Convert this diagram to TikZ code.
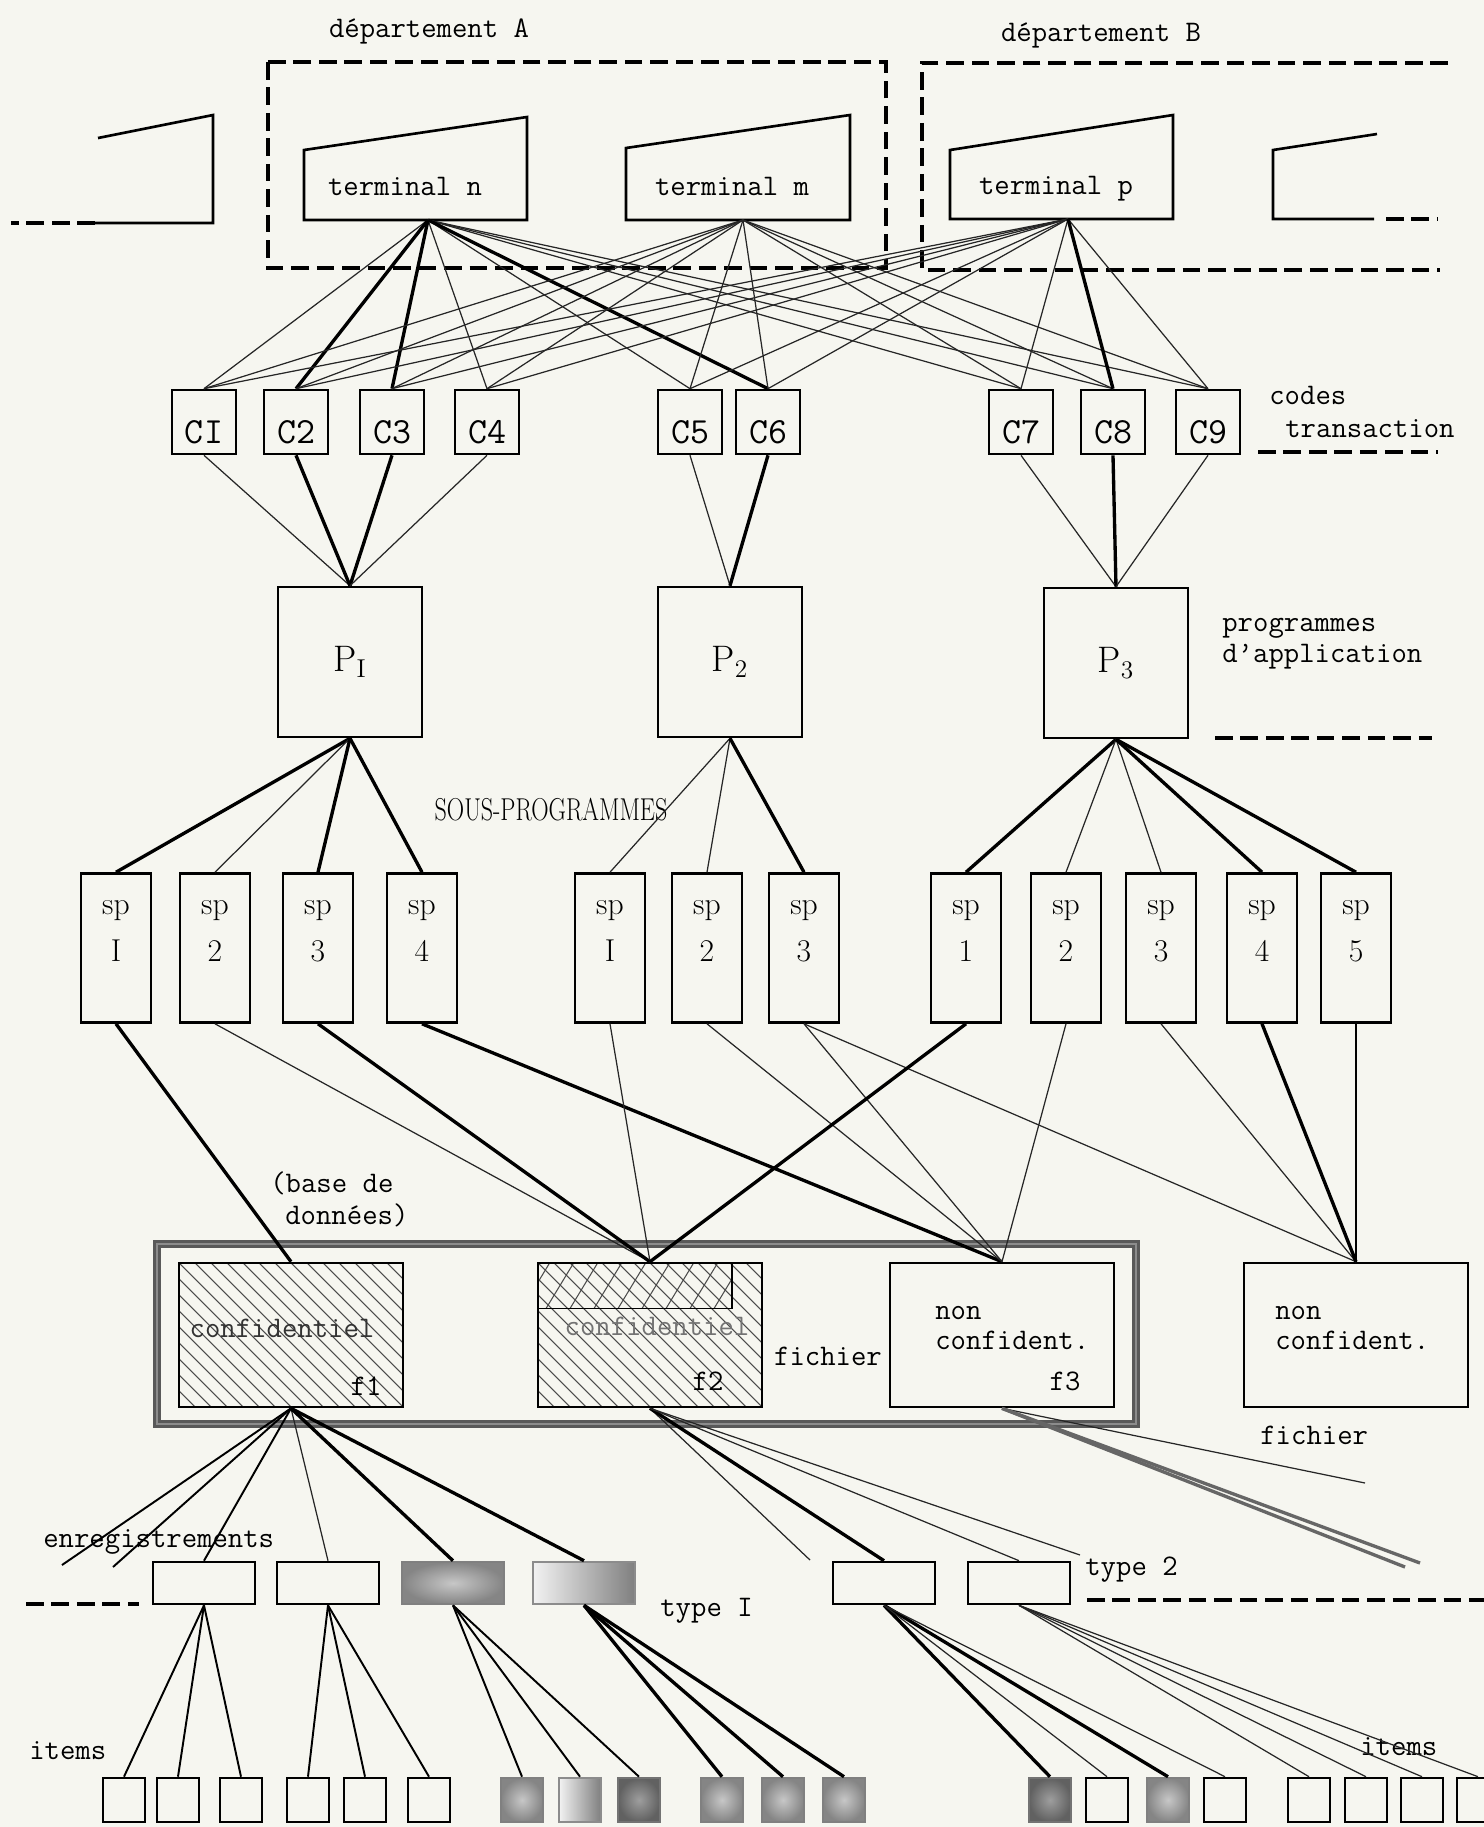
\documentclass[tikz,border=0pt]{standalone}
\usepackage{fontspec}
\usepackage{graphicx}
\usepackage{tikz}
\usetikzlibrary{positioning}

\definecolor{paper}{RGB}{246,246,240}

\begin{document}
\begin{tikzpicture}[
    x=0.02cm, y=-0.02cm,
    lw/.style={line width=0.7pt, black!85},
    lm/.style={line width=1.1pt},
    lt/.style={line width=1.9pt},
    outline/.style={draw, line width=1.5pt},
    dsh/.style={line width=1.8pt, dash pattern=on 10pt off 4.5pt},
    tt/.style={font=\ttfamily\addfontfeatures{FakeBold=0.7}\fontsize{17}{20}\selectfont, inner sep=0pt, text height=12pt, text depth=3.5pt},
    code/.style={outline, minimum width=1.28cm, minimum height=1.28cm, inner sep=0pt,
        font=\ttfamily\fontsize{21}{24}\selectfont, text height=0.85cm, text depth=0pt},
    prog/.style={outline, minimum width=2.88cm, minimum height=3cm, font=\fontsize{21}{24}\selectfont},
    spbox/.style={outline, minimum width=1.4cm, minimum height=2.98cm},
    sptext/.style={font=\fontsize{18}{27}\selectfont, align=center, inner sep=0pt},
    file/.style={outline, minimum width=4.48cm, minimum height=2.88cm},
    frame/.style={draw=black!65, double=black!45, double distance=0.05cm, line width=0.05cm},
    hatch/.style={line width=0.6pt, black!70},
    hatched/.style={path picture={
        \foreach \k in {0,16,...,400}
          \draw[hatch] ([xshift=\k*0.02cm-3.2cm]path picture bounding box.north west) -- ++(170,170);}},
    crossed/.style={path picture={
        \foreach \k in {0,24,...,260}
          \draw[hatch] ([xshift=\k*0.02cm-0.8cm]path picture bounding box.south west) -- ++(40,-66);}},
    rec/.style={outline, minimum width=2.04cm, minimum height=0.84cm},
    item/.style={outline, minimum width=0.84cm, minimum height=0.88cm},
    dark/.style={draw=black!50, inner color=black!22, outer color=black!48},
    darker/.style={draw=black!55, inner color=black!38, outer color=black!62},
    fade/.style={draw=black!45, left color=black!5, right color=black!50},
]
\useasboundingbox (0,0) rectangle (1484,1827);
\fill[paper] (0,0) rectangle (1484,1827);

% departments
\node[tt] (depA) at (429,30) {département A};
\node[tt] (depB) at (1101,34) {département B};
\draw[dsh] (268,62) rectangle (886,268);
\draw[dsh] (1448,63) -- (922,63) -- (922,270) -- (1440,270);

% terminals
\draw[outline] (98,138) -- (213,115) -- (213,223) -- (95,223);
\draw[dsh] (95,223) -- (11,223);
\draw[outline] (304,220) -- (304,150) -- (527,117) -- (527,220) -- cycle;
\draw[outline] (626,220) -- (626,148) -- (850,115) -- (850,220) -- cycle;
\draw[outline] (950,219) -- (950,150) -- (1173,115) -- (1173,219) -- cycle;
\draw[outline] (1377,134) -- (1273,150) -- (1273,219) -- (1374,219);
\draw[dsh] (1386,219) -- (1438,219);
\node[tt] (tn) at (405,188) {terminal n};
\node[tt] (tm) at (732,188) {terminal m};
\node[tt] (tp) at (1056,187) {terminal p};
\coordinate (tnA) at (428,220);
\coordinate (tmA) at (743,220);
\coordinate (tpA) at (1068,219);

% transaction codes
\node[code] (c1) at (204,422) {CI};
\node[code] (c2) at (296,422) {C2};
\node[code] (c3) at (392,422) {C3};
\node[code] (c4) at (487,422) {C4};
\node[code] (c5) at (690,422) {C5};
\node[code] (c6) at (768,422) {C6};
\node[code] (c7) at (1021,422) {C7};
\node[code] (c8) at (1113,422) {C8};
\node[code] (c9) at (1208,422) {C9};
\node[tt, anchor=west] (codes) at (1269,397) {codes};
\node[tt, anchor=west] (trans) at (1285,430) {transaction};
\draw[dsh] (1258,452) -- (1438,452);

\foreach \c in {c1,c4,c5,c7,c8,c9} \draw[lw] (tnA) -- (\c.north);
\foreach \c in {c2,c3,c6} \draw[lt] (tnA) -- (\c.north);
\foreach \c in {c1,c2,c3,c4,c5,c6,c7,c8,c9} \draw[lw] (tmA) -- (\c.north);
\foreach \c in {c1,c2,c3,c4,c5,c6,c7,c9} \draw[lw] (tpA) -- (\c.north);
\draw[lt] (tpA) -- (c8.north);

% application programs
\node[prog] (p1) at (350,662) {P$_\mathrm{I}$};
\node[prog] (p2) at (730,662) {P$_2$};
\node[prog] (p3) at (1116,663) {P$_3$};
\node[tt, anchor=west] (progs) at (1222,624) {programmes};
\node[tt, anchor=west] (appl) at (1222,655) {d’application};
\draw[dsh] (1215,738) -- (1432,738);

\draw[lw] (c1.south) -- (p1.north);
\draw[lt] (c2.south) -- (p1.north);
\draw[lt] (c3.south) -- (p1.north);
\draw[lw] (c4.south) -- (p1.north);
\draw[lw] (c5.south) -- (p2.north);
\draw[lt] (c6.south) -- (p2.north);
\draw[lw] (c7.south) -- (p3.north);
\draw[lt] (c8.south) -- (p3.north);
\draw[lw] (c9.south) -- (p3.north);

% sub-programs
\foreach \n/\x/\lab in {sp11/116/I, sp12/215/2, sp13/318/3, sp14/422/4,
    sp21/610/I, sp22/707/2, sp23/804/3,
    sp31/966/1, sp32/1066/2, sp33/1161/3, sp34/1262/4, sp35/1356/5} {
  \node[spbox] (\n) at (\x,948) {};
  \node[sptext, below=0.55cm of \n.north] (\n-t) {sp\\\lab};
}
\node (sous) at (551,810) {\scalebox{0.76}[1]{\fontsize{18}{20}\selectfont SOUS-PROGRAMMES}};

\draw[lt] (p1.south) -- (sp11.north);
\draw[lw] (p1.south) -- (sp12.north);
\draw[lt] (p1.south) -- (sp13.north);
\draw[lt] (p1.south) -- (sp14.north);
\draw[lw] (p2.south) -- (sp21.north);
\draw[lw] (p2.south) -- (sp22.north);
\draw[lt] (p2.south) -- (sp23.north);
\draw[lt] (p3.south) -- (sp31.north);
\draw[lw] (p3.south) -- (sp32.north);
\draw[lw] (p3.south) -- (sp33.north);
\draw[lt] (p3.south) -- (sp34.north);
\draw[lt] (p3.south) -- (sp35.north);

% data base and files
\draw[frame] (157,1244) rectangle (1136,1424);
\node[tt, anchor=west] (base1) at (270,1185) {(base de};
\node[tt, anchor=west] (base2) at (285,1217) {données)};
\node[file, hatched] (f1) at (291,1335) {};
\node[file, hatched] (f2) at (650,1335) {};
\node[outline, crossed, line width=1.1pt, minimum width=3.88cm, minimum height=0.9cm] (f2c) at (635,1286) {};
\node[file] (f3) at (1002,1335) {};
\node[file] (f4) at (1356,1335) {};
\node[tt, text=black!80] (f1t) at (282,1330) {confidentiel};
\node[tt] (f1n) at (366,1388) {f1};
\node[tt, text=black!55] (f2t) at (657,1328) {confidentiel};
\node[tt] (f2n) at (708,1383) {f2};
\node[tt] (fich) at (828,1358) {fichier};
\node[tt, anchor=west] (f3a) at (935,1312) {non};
\node[tt, anchor=west] (f3b) at (935,1342) {confident.};
\node[tt] (f3n) at (1065,1383) {f3};
\node[tt, anchor=west] (f4a) at (1275,1312) {non};
\node[tt, anchor=west] (f4b) at (1275,1342) {confident.};
\node[tt, anchor=west] (fich2) at (1260,1437) {fichier};

\draw[lt] (sp11.south) -- (f1.north);
\draw[lw] (sp12.south) -- (f2.north);
\draw[lt] (sp13.south) -- (f2.north);
\draw[lt] (sp14.south) -- (f3.north);
\draw[lw] (sp21.south) -- (f2.north);
\draw[lw] (sp22.south) -- (f3.north);
\draw[lw] (sp23.south) -- (f3.north);
\draw[lw] (sp23.south) -- (f4.north);
\draw[lt] (sp31.south) -- (f2.north);
\draw[lw] (sp32.south) -- (f3.north);
\draw[lw] (sp33.south) -- (f4.north);
\draw[lt] (sp34.south) -- (f4.north);
\draw[lm] (sp35.south) -- (f4.north);

% records
\node[rec] (r1) at (204,1583) {};
\node[rec] (r2) at (328,1583) {};
\node[rec, dark] (r3) at (453,1583) {};
\node[rec, fade] (r4) at (584,1583) {};
\node[rec] (r5) at (884,1583) {};
\node[rec] (r6) at (1019,1583) {};
\node[tt, anchor=west] (enreg) at (43,1540) {enregistrements};
\node[tt, anchor=west] (type1) at (660,1609) {type I};
\node[tt, anchor=west] (type2) at (1085,1568) {type 2};
\draw[dsh] (26,1604) -- (139,1604);
\draw[dsh] (1087,1600) -- (1484,1600);

\coordinate (e1) at (62,1565);
\coordinate (e2) at (113,1567);
\coordinate (e3) at (810,1560);
\coordinate (e4) at (1080,1555);
\coordinate (e5) at (1365,1483);
\coordinate (e6) at (1405,1567);
\coordinate (e7) at (1420,1563);
\draw[lm] (f1.south) -- (e1);
\draw[lm] (f1.south) -- (e2);
\draw[lm] (f1.south) -- (r1.north);
\draw[lw] (f1.south) -- (r2.north);
\draw[lt] (f1.south) -- (r3.north);
\draw[lt] (f1.south) -- (r4.north);
\draw[lw] (f2.south) -- (e3);
\draw[lt] (f2.south) -- (r5.north);
\draw[lw] (f2.south) -- (r6.north);
\draw[lw] (f2.south) -- (e4);
\draw[lw] (f3.south) -- (e5);
\draw[lt, black!60] (f3.south) -- (e6);
\draw[lt, black!60] (f3.south) -- (e7);

% items
\foreach \n/\x in {t1/124, t2/178, t3/241, t4/308, t5/365, t6/429,
    u2/1107, u4/1225, u5/1309, u6/1366, u7/1422, u8/1478}
  \node[item] (\n) at (\x,1800) {};
\foreach \n/\x in {t7/522, t10/722, t11/783, t12/844, u3/1168}
  \node[item, dark] (\n) at (\x,1800) {};
\foreach \n/\x in {t9/639, u1/1050}
  \node[item, darker] (\n) at (\x,1800) {};
\node[item, fade] (t8) at (580,1800) {};
\node[tt, anchor=west] (items1) at (29,1752) {items};
\node[tt, anchor=west] (items2) at (1360,1748) {items};

\foreach \i in {t1,t2,t3} \draw[lm] (r1.south) -- (\i.north);
\foreach \i in {t4,t5,t6} \draw[lm] (r2.south) -- (\i.north);
\foreach \i in {t7,t8,t9} \draw[lm] (r3.south) -- (\i.north);
\foreach \i in {t10,t11,t12} \draw[lt] (r4.south) -- (\i.north);
\foreach \i in {u1,u3} \draw[lt] (r5.south) -- (\i.north);
\foreach \i in {u2,u4} \draw[lw] (r5.south) -- (\i.north);
\foreach \i in {u5,u6,u7,u8} \draw[lw] (r6.south) -- (\i.north);
\end{tikzpicture}
\end{document}
